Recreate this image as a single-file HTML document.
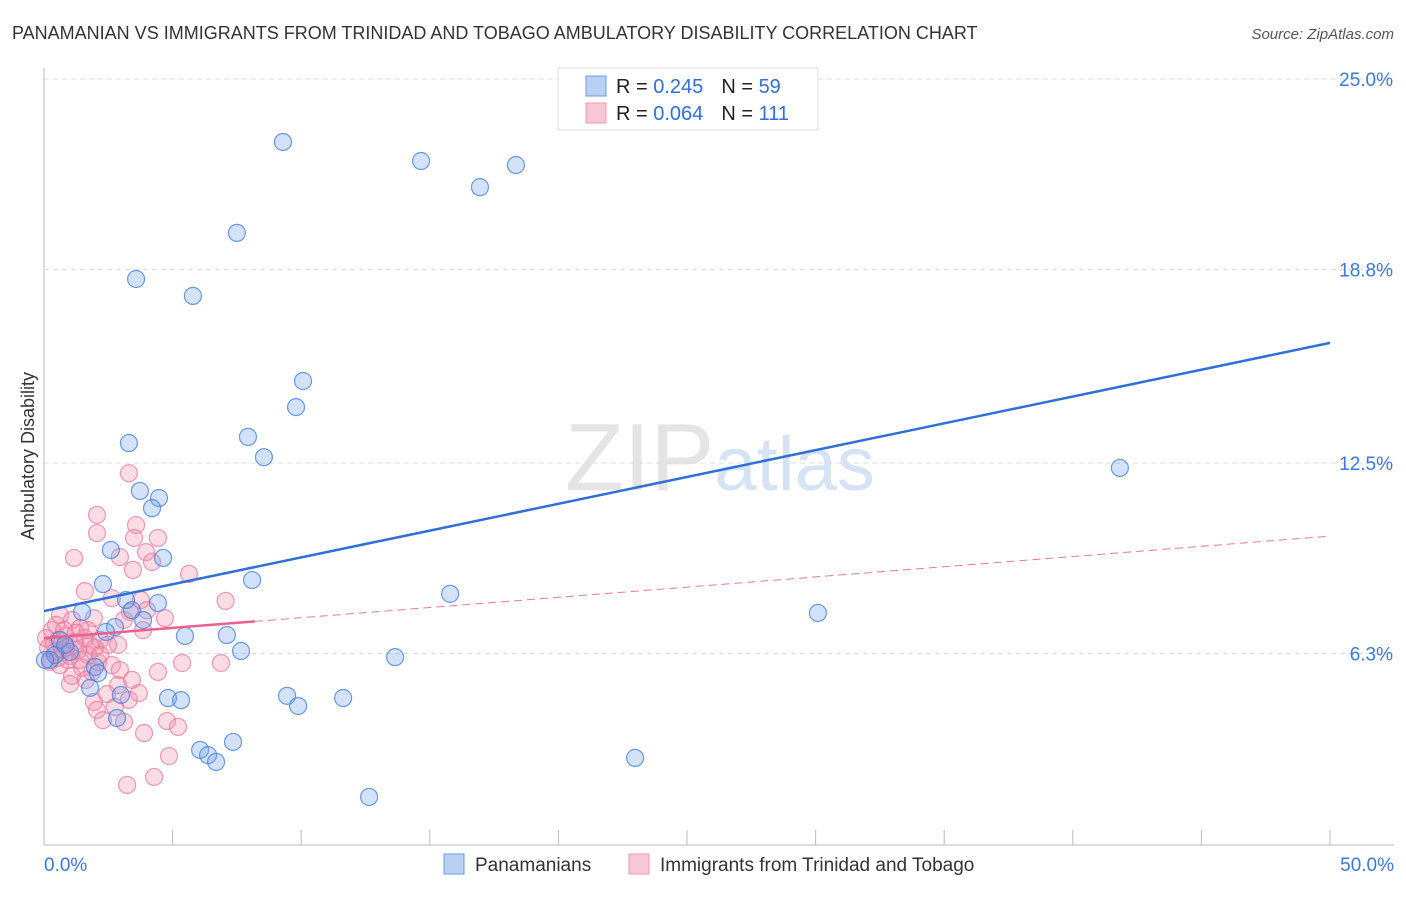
<!DOCTYPE html>
<html><head><meta charset="utf-8"><style>
body{margin:0;background:#fff;font-family:"Liberation Sans",sans-serif;}
svg text{font-family:"Liberation Sans",sans-serif;}
</style></head><body>
<svg id="c" width="1406" height="892" xmlns="http://www.w3.org/2000/svg">
<text x="12" y="39" font-size="18" fill="#333">PANAMANIAN VS IMMIGRANTS FROM TRINIDAD AND TOBAGO AMBULATORY DISABILITY CORRELATION CHART</text>
<text x="1394" y="39" font-size="15" fill="#555" font-style="italic" text-anchor="end">Source: ZipAtlas.com</text>
<text x="720" y="490" font-size="96" fill="#e4e4e4" text-anchor="middle" font-family="Liberation Serif">ZIP<tspan fill="#d6e3f4" font-family="Liberation Sans" font-size="76">atlas</tspan></text>
<text transform="translate(34,456) rotate(-90)" font-size="18" fill="#333" text-anchor="middle">Ambulatory Disability</text>
<g id="grid"></g><g id="pts"></g><g id="lines"></g>
<g>
<rect x="558" y="68" width="260" height="62" fill="#fff" stroke="#ddd"/>
<rect x="586" y="76" width="20" height="20" fill="#b9d0f3" stroke="#6d9be0"/>
<rect x="586" y="103" width="20" height="20" fill="#f8c7d6" stroke="#ec9ab5"/>
<text x="616" y="93" font-size="20" fill="#222">R = <tspan fill="#2f6fd6">0.245</tspan><tspan dx="18">N = </tspan><tspan fill="#2f6fd6">59</tspan></text>
<text x="616" y="120" font-size="20" fill="#222">R = <tspan fill="#2f6fd6">0.064</tspan><tspan dx="18">N = </tspan><tspan fill="#2f6fd6">111</tspan></text>
</g>
<g>
<rect x="444" y="854" width="20" height="20" fill="#b9d0f3" stroke="#6d9be0"/>
<text x="475" y="871" font-size="19" fill="#333">Panamanians</text>
<rect x="629" y="854" width="20" height="20" fill="#f8c7d6" stroke="#ec9ab5"/>
<text x="660" y="871" font-size="19" fill="#333">Immigrants from Trinidad and Tobago</text>
</g>
</svg>
<script>
const yTicks=[25.0,18.8,12.5,6.3];
const yTickLabels=["25.0%","18.8%","12.5%","6.3%"];
const xTickLabels=["0.0%","50.0%"];
const blueX=[9.29,14.66,16.95,18.35,7.50,3.58,5.79,10.07,9.80,7.93,8.55,3.30,41.83,3.73,4.47,4.20,2.60,4.63,8.09,2.29,15.79,4.43,3.19,3.42,1.48,3.85,2.76,2.41,30.09,5.48,7.11,7.66,13.65,0.62,1.01,0.23,1.98,2.10,1.79,2.99,4.82,5.33,9.45,9.88,11.63,2.84,7.35,6.07,6.38,6.69,22.98,12.64,0.43,0.82,0.04];
const blueY=[22.95,22.33,21.48,22.20,19.99,18.49,17.94,15.17,14.32,13.35,12.69,13.15,12.34,11.59,11.36,11.03,9.67,9.41,8.69,8.56,8.24,7.94,8.04,7.71,7.65,7.39,7.16,7.00,7.62,6.87,6.90,6.38,6.18,6.74,6.35,6.09,5.86,5.66,5.18,4.95,4.85,4.78,4.92,4.59,4.85,4.20,3.42,3.16,2.99,2.77,2.90,1.63,6.25,6.58,6.09];
const pinkX=[3.30,2.06,2.06,3.58,1.17,4.43,3.50,3.97,2.95,4.20,3.46,5.64,1.59,2.64,3.77,7.06,4.0,4.7,3.34,1.94,3.85,3.11,2.88,0.62,1.09,1.4,0.31,0.54,0.82,1.2,1.59,1.79,2.18,2.49,0.16,0.43,0.7,1.01,1.32,1.71,1.98,0.23,0.62,0.93,1.48,1.87,1.09,1.01,1.63,2.1,2.64,2.95,5.37,6.88,4.43,3.42,2.88,2.45,3.69,3.3,1.94,2.06,2.29,2.76,3.11,3.89,4.78,5.21,4.86,4.28,3.23,0.47,0.78,1.24,1.71,0.08,0.39,0.86,1.4,0.54,2.18];
const pinkY=[12.17,10.81,10.22,10.48,9.41,10.06,10.06,9.60,9.44,9.28,9.02,8.89,8.33,8.10,8.04,8.01,7.71,7.45,7.65,7.45,7.06,7.39,6.58,7.55,7.39,7.13,7.06,6.74,6.87,6.67,6.8,6.58,6.74,6.58,6.48,6.35,6.41,6.22,6.41,6.25,6.48,6.02,5.92,6.09,5.83,5.7,5.57,5.31,5.44,6.02,5.92,5.76,5.99,5.99,5.7,5.44,5.27,4.98,5.01,4.79,4.72,4.46,4.13,4.56,4.07,3.71,4.1,3.91,2.96,2.28,2.02,7.23,7.06,6.97,7.06,6.8,6.61,6.48,6.09,6.15,6.25];
const blueTrend=[7.68,16.41];
const pinkTrend=[6.80,10.12];
const pinkSolidEnd=8.2;
const NS="http://www.w3.org/2000/svg";
const X=v=>44+v/50*1286, Y=v=>847-v/25*768;
function mk(tag,attrs,parent){const e=document.createElementNS(NS,tag);for(const k in attrs)e.setAttribute(k,attrs[k]);parent.appendChild(e);return e;}
const g=document.getElementById('grid');
yTicks.forEach((t,i)=>{
 const l=mk('line',{x1:44,x2:1394,y1:Y(t),y2:Y(t),stroke:'#ddd','stroke-dasharray':'5,4'},g);
 
 
 const tx=mk('text',{x:1393,y:Y(t)+7,'font-size':19,fill:'#3b78d8','text-anchor':'end'},g);
 tx.textContent=yTickLabels[i];
 
 
});
const ax=mk('line',{x1:44,x2:44,y1:68,y2:845,stroke:'#bbb'},g);


const bx=mk('line',{x1:44,x2:1394,y1:845,y2:845,stroke:'#bbb'},g);


for(let v=0;v<=50;v+=5){
 const t=mk('line',{x1:X(v),x2:X(v),y1:830,y2:845,stroke:'#bbb'},g);
 
 
}
[[0,'start',44],[50,'end',1394]].forEach((a,i)=>{
 const tx=mk('text',{x:a[2],y:871,'font-size':19,fill:'#3b78d8','text-anchor':a[1]},g);
 tx.textContent=xTickLabels[i];
 
 
});
const p=document.getElementById('pts');
pinkX.forEach((v,i)=>{
 const c=mk('circle',{cx:X(v),cy:Y(pinkY[i]),r:8.5,fill:'rgba(242,140,170,0.3)',stroke:'rgba(232,120,158,0.75)','stroke-width':1.2},p);
 
 
});
blueX.forEach((v,i)=>{
 const c=mk('circle',{cx:X(v),cy:Y(blueY[i]),r:8.5,fill:'rgba(110,160,235,0.3)',stroke:'rgba(70,130,220,0.8)','stroke-width':1.2},p);
 
 
});
const L=document.getElementById('lines');
const bl=mk('line',{x1:X(0),y1:Y(blueTrend[0]),x2:X(50),y2:Y(blueTrend[1]),stroke:'#2f6fd6','stroke-width':2.5},L);


const pe=pinkTrend[0]+(pinkTrend[1]-pinkTrend[0])*pinkSolidEnd/50;
const pl=mk('line',{x1:X(0),y1:Y(pinkTrend[0]),x2:X(pinkSolidEnd),y2:Y(pe),stroke:'#e8608f','stroke-width':2.5},L);


const pd=mk('line',{x1:X(pinkSolidEnd),y1:Y(pe),x2:X(50),y2:Y(pinkTrend[1]),stroke:'#e8789f','stroke-width':1,'stroke-dasharray':'8,5'},L);


</script>
</body></html>
